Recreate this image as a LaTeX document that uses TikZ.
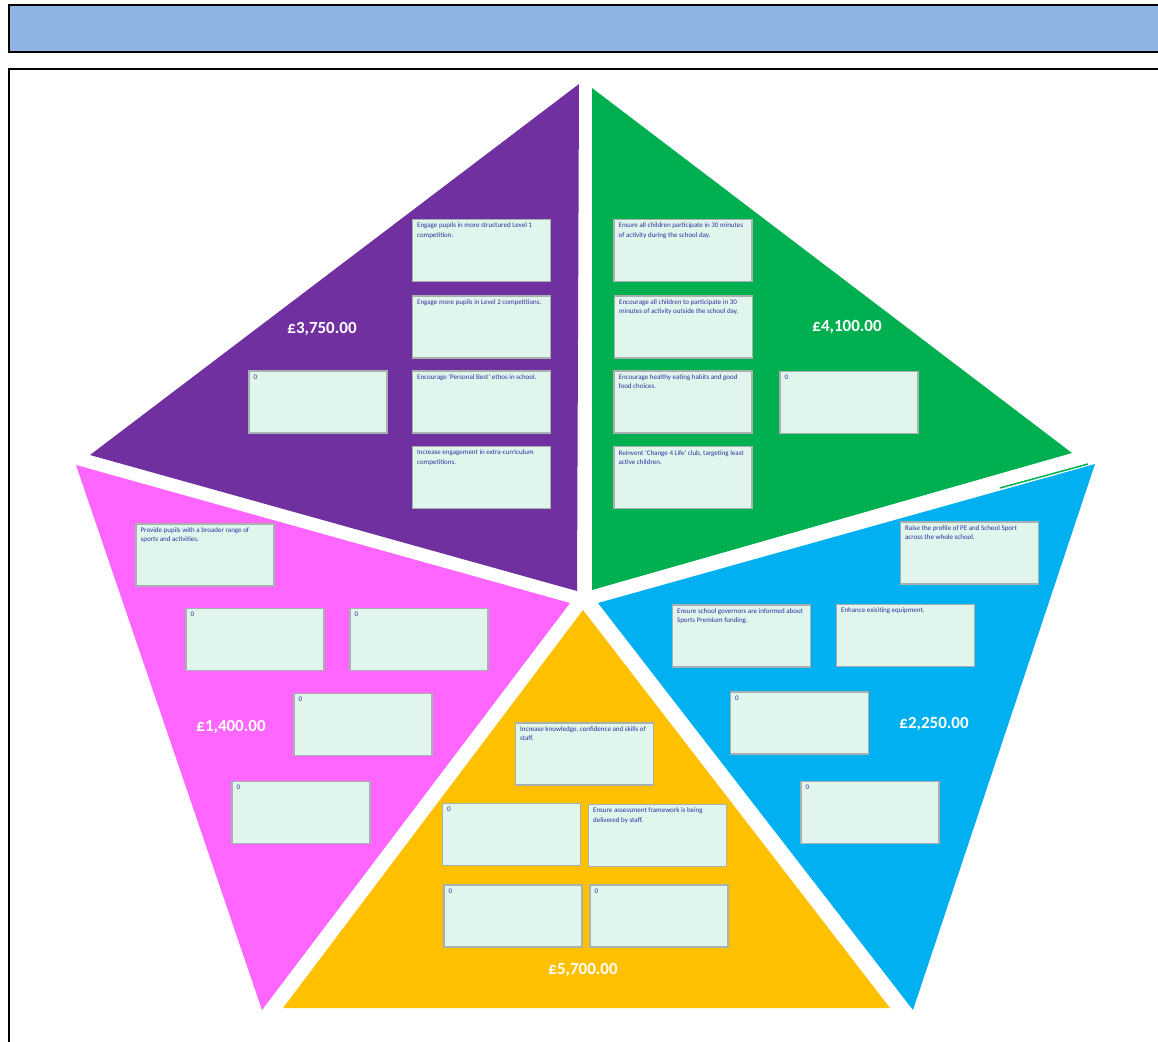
\documentclass[tikz,border=0pt]{standalone}
\usepackage{fontspec}
\setmainfont{Carlito}
\definecolor{banner}{RGB}{142,180,227}
\definecolor{cpurple}{RGB}{112,48,160}
\definecolor{cgreen}{RGB}{0,176,80}
\definecolor{cpink}{RGB}{255,102,255}
\definecolor{cblue}{RGB}{0,176,240}
\definecolor{cyellow}{RGB}{255,192,0}
\definecolor{boxfill}{RGB}{224,246,236}
\definecolor{boxgray}{RGB}{168,176,176}
\definecolor{boxtext}{RGB}{46,46,160}
\newcommand\tbox[3]{%
  \node[bx] (#1) at (#2) {};
  \node[bt] (#1t) at ([xshift=5pt,yshift=-4pt]#1.north west) {#3};}
\begin{document}
\begin{tikzpicture}[x=1pt,y=-1pt,
  bx/.style={draw=boxgray, fill=boxfill, line width=1.2pt, minimum width=138pt, minimum height=62pt, inner sep=0pt},
  bt/.style={anchor=north west, inner sep=0pt, font=\fontsize{7}{9.2}\selectfont, text=boxtext, align=left},
  amt/.style={font=\fontsize{17}{19}\selectfont\bfseries, text=white, inner sep=0pt},
  frame/.style={draw=black, line width=2pt}]
\useasboundingbox (0,0) rectangle (1158,1041);
% banner and frame
\fill[banner] (9,5) rectangle (1162,52);
\draw[frame] (1162,5) -- (9,5) -- (9,52) -- (1162,52);
\draw[frame] (1162,69) -- (9,69) -- (9,1045);
% segments
\fill[cpurple] (579,84) -- (90,455) -- (577,591) -- cycle;
\fill[cgreen] (592,88) -- (1072,453) -- (592,590) -- cycle;
\draw[cgreen, line width=1.5pt] (1088,464) -- (1000,488);
\fill[cpink] (76,465) -- (570,603) -- (262,1010) -- cycle;
\fill[cblue] (1095,464) -- (598,603) -- (913,1010) -- cycle;
\fill[cyellow] (583,610) -- (890,1008) -- (283,1008) -- cycle;
% purple
\tbox{pu1}{481.5,250.5}{Engage pupils in more structured Level 1\\competition.}
\tbox{pu2}{481.5,327}{Engage more pupils in Level 2 competitions.}
\tbox{pu3}{481.5,402}{Encourage `Personal Best' ethos in school.}
\tbox{pu4}{481.5,477.5}{Increase engagement in extra-curriculum\\competitions.}
\tbox{pu5}{318,402}{0}
\node[amt] (pua) at (322,329) {£3,750.00};
% green
\tbox{gr1}{683,250.5}{Ensure all children participate in 30 minutes\\of activity during the school day.}
\tbox{gr2}{683.5,327}{Encourage all children to participate in 30\\minutes of activity outside the school day.}
\tbox{gr3}{683,402}{Encourage healthy eating habits and good\\food choices.}
\tbox{gr4}{683,477.5}{Reinvent `Change 4 Life' club, targeting least\\active children.}
\tbox{gr5}{849,402.5}{0}
\node[amt] (gra) at (847,327) {£4,100.00};
% pink
\tbox{pk1}{205,555}{Provide pupils with a broader range of\\sports and activities.}
\tbox{pk2}{255,639.5}{0}
\tbox{pk3}{419,639.5}{0}
\tbox{pk4}{363,724.5}{0}
\tbox{pk5}{301,812.5}{0}
\node[amt] (pka) at (231,727) {£1,400.00};
% blue
\tbox{bl1}{969.5,553}{Raise the profile of PE and School Sport\\across the whole school.}
\tbox{bl2}{741.5,636}{Ensure school governors are informed about\\Sports Premium funding.}
\tbox{bl3}{905.5,635.5}{Enhance exisiting equipment.}
\tbox{bl4}{799.5,723}{0}
\tbox{bl5}{870,812.5}{0}
\node[amt] (bla) at (934,724) {£2,250.00};
% yellow
\tbox{ye1}{584.5,754}{Increase knowledge, confidence and skills of\\staff.}
\tbox{ye2}{511.5,834.5}{0}
\tbox{ye3}{657.5,835.5}{Ensure assessment framework is being\\delivered by staff.}
\tbox{ye4}{513,916}{0}
\tbox{ye5}{659,916}{0}
\node[amt] (yea) at (583,970) {£5,700.00};
\end{tikzpicture}
\end{document}
